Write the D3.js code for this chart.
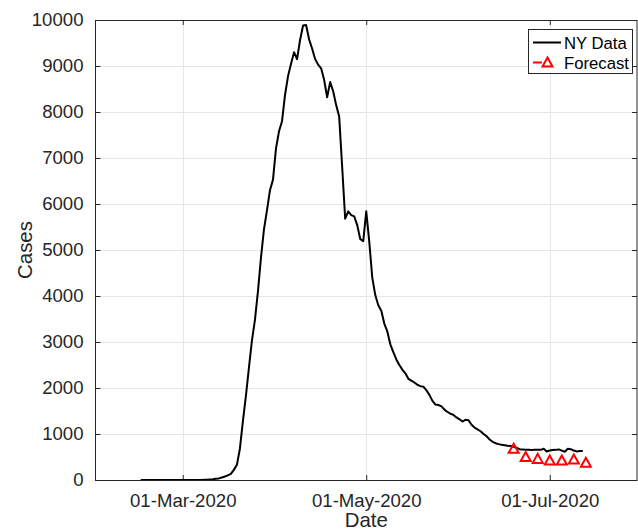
<!DOCTYPE html>
<html>
<head>
<meta charset="utf-8">
<script src="https://cdn.jsdelivr.net/npm/d3@7"></script>
<style>
  html, body { margin: 0; padding: 0; background: #fff; }
  svg { display: block; font-family: "Liberation Sans", Arial, Helvetica, sans-serif; }
</style>
</head>
<body>
<svg id="chart" width="638" height="530"></svg>
<script>
// ---------- data ----------
const seriesStart = "2020-02-16";           // first day of NY daily series
const nyCases = [
  0,0,0,0,0,0,0,0,0,0,0,0,0,0,0,0,           // Feb 16 - Mar 2
  0,0,0,1,2,3,                               // Mar 3 - Mar 8
  5,10,15,25,35,55,75,100,135,220,330,680,1280,1830,2440,3030,3480,4100,4830,5450,5860,6300,6530,
  7210,7580,7800,8370,8780,9050,9300,9150,9565,9880,9890,9580,9380,9150,9030,8950,8700,8320,8650,8450,
  8150,7900,6800,5680,5840,5760,5730,5540,5240,5190,5840,5180,4400,4020,3800,3680,3400,3230,2950,2780,
  2620,2500,2400,2320,2200,2160,2120,2070,2040,2030,1950,1850,1720,1640,1630,1600,1530,1480,1440,1415,
  1360,1320,1270,1310,1300,1200,1140,1100,1060,1000,950,880,830,800,780,765,755,745,740,720,700,670,
  665,660,655,650,655,660,655,680,620,640,650,655,665,640,615,680,670,640,620,630,630
];
const forecastDates = ["2020-06-19","2020-06-23","2020-06-27","2020-07-01","2020-07-05","2020-07-09","2020-07-13"];
const forecastValues = [690, 510, 470, 435, 435, 455, 385];
const xDomain = ["2020-02-01", "2020-07-30"];
const xTickDates = ["2020-03-01", "2020-05-01", "2020-07-01"];
const xTickLabels = ["01-Mar-2020", "01-May-2020", "01-Jul-2020"];
const yTicks = [0,1000,2000,3000,4000,5000,6000,7000,8000,9000,10000];
const legendLabels = ["NY Data", "Forecast"];
const xLabel = "Date", yLabel = "Cases";

// ---------- layout ----------
const parse = d3.utcParse("%Y-%m-%d");
const L = 95.5, R = 637, T = 20, B = 480;
const axisColor = "#262626";
const svg = d3.select("#chart");

const x = d3.scaleUtc().domain(xDomain.map(parse)).range([L, R]);
const y = d3.scaleLinear().domain([0, 10000]).range([B, T]);

const start = parse(seriesStart);
const nyData = nyCases.map((v, i) => ({ date: d3.utcDay.offset(start, i), value: v }));
const fcData = forecastDates.map((d, i) => ({ date: parse(d), value: forecastValues[i] }));

// grid
const grid = svg.append("g");
grid.selectAll("line.gy").data(yTicks).join("line")
  .attr("x1", L).attr("x2", R)
  .attr("y1", d => Math.round(y(d)) + 0.5).attr("y2", d => Math.round(y(d)) + 0.5)
  .attr("stroke", "#e6e6e6").attr("stroke-width", 1);
grid.selectAll("line.gx").data(xTickDates.map(parse)).join("line")
  .attr("x1", d => Math.round(x(d)) + 0.5).attr("x2", d => Math.round(x(d)) + 0.5)
  .attr("y1", T).attr("y2", B)
  .attr("stroke", "#e6e6e6").attr("stroke-width", 1);

// axes (MATLAB style: inside ticks, box on)
const tickLen = 5;
const yAxisL = d3.axisLeft(y).tickValues(yTicks).tickSizeInner(-tickLen).tickSizeOuter(0)
  .tickPadding(tickLen + 7).tickFormat(d3.format("d"));
const gy = svg.append("g").attr("transform", `translate(${L},0)`).call(yAxisL);
gy.select(".domain").remove();
gy.selectAll(".tick line").attr("stroke", axisColor);
gy.selectAll(".tick text").attr("fill", axisColor).style("font-size", "18.6px")
  .style("font-family", "'Liberation Sans', Arial, sans-serif");

const yAxisR = d3.axisRight(y).tickValues(yTicks).tickSizeInner(-tickLen).tickSizeOuter(0).tickFormat("");
const gyr = svg.append("g").attr("transform", `translate(${R},0)`).call(yAxisR);
gyr.select(".domain").remove();
gyr.selectAll(".tick line").attr("stroke", axisColor);

const xAxisB = d3.axisBottom(x).tickValues(xTickDates.map(parse)).tickSizeInner(-tickLen).tickSizeOuter(0)
  .tickPadding(tickLen + 9).tickFormat((d, i) => xTickLabels[i]);
const gx = svg.append("g").attr("transform", `translate(0,${B})`).call(xAxisB);
gx.select(".domain").remove();
gx.selectAll(".tick line").attr("stroke", axisColor);
gx.selectAll(".tick text").attr("fill", axisColor).style("font-size", "18.6px")
  .style("font-family", "'Liberation Sans', Arial, sans-serif");

const xAxisT = d3.axisTop(x).tickValues(xTickDates.map(parse)).tickSizeInner(-tickLen).tickSizeOuter(0).tickFormat("");
const gxt = svg.append("g").attr("transform", `translate(0,${T})`).call(xAxisT);
gxt.select(".domain").remove();
gxt.selectAll(".tick line").attr("stroke", axisColor);

// data line
const line = d3.line().x(d => x(d.date)).y(d => y(d.value));
svg.append("path").datum(nyData)
  .attr("d", line).attr("fill", "none").attr("stroke", "#000")
  .attr("stroke-width", 2).attr("stroke-linejoin", "round");

// forecast triangles
const tri = (cx, cy, w, h) => `M${cx},${cy - h / 2}L${cx + w / 2},${cy + h / 2}L${cx - w / 2},${cy + h / 2}Z`;
svg.append("g").selectAll("path").data(fcData).join("path")
  .attr("d", d => tri(x(d.date), y(d.value), 10, 9))
  .attr("fill", "none").attr("stroke", "#ff0000").attr("stroke-width", 2).attr("stroke-linejoin", "miter");

// box frame
svg.append("rect").attr("x", L).attr("y", T + 0.5).attr("width", R - L).attr("height", B - T)
  .attr("fill", "none").attr("stroke", axisColor).attr("stroke-width", 1);

// axis labels
svg.append("text").attr("x", (L + R) / 2).attr("y", 527).attr("text-anchor", "middle")
  .attr("fill", axisColor).style("font-size", "20.4px").text(xLabel);
svg.append("text").attr("transform", `translate(32,${(T + B) / 2}) rotate(-90)`).attr("text-anchor", "middle")
  .attr("fill", axisColor).style("font-size", "20.4px").text(yLabel);

// legend
const lg = svg.append("g");
lg.append("rect").attr("x", 528.5).attr("y", 29.5).attr("width", 104).attr("height", 44)
  .attr("fill", "#fff").attr("stroke", axisColor).attr("stroke-width", 1);
lg.append("line").attr("x1", 533).attr("x2", 561).attr("y1", 42.5).attr("y2", 42.5)
  .attr("stroke", "#000").attr("stroke-width", 2);
lg.append("text").attr("x", 564).attr("y", 48.5).attr("fill", "#000")
  .style("font-size", "16.7px").text(legendLabels[0]);
lg.append("line").attr("x1", 533).attr("x2", 542).attr("y1", 62.5).attr("y2", 62.5)
  .attr("stroke", "#ff0000").attr("stroke-width", 2);
lg.append("path").attr("d", tri(547.5, 62, 10, 9))
  .attr("fill", "none").attr("stroke", "#ff0000").attr("stroke-width", 2);
lg.append("text").attr("x", 564).attr("y", 68.5).attr("fill", "#000")
  .style("font-size", "16.7px").text(legendLabels[1]);
</script>
</body>
</html>
